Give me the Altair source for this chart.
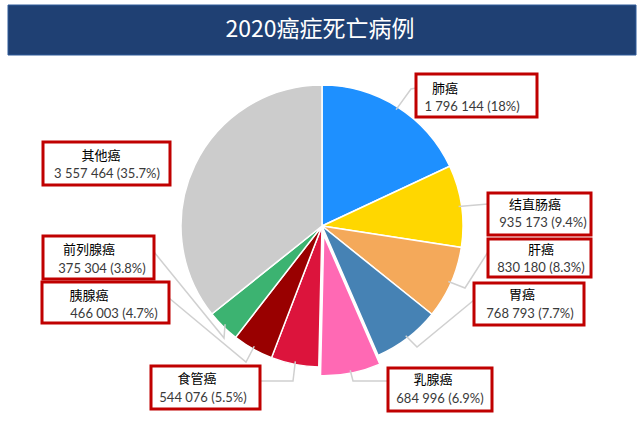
import math
import altair as alt
import pandas as pd

# ---- data ----
names = ["肺癌", "结直肠癌", "肝癌", "胃癌", "乳腺癌", "食管癌", "胰腺癌", "前列腺癌", "其他癌"]
deaths = [1796144, 935173, 830180, 768793, 684996, 544076, 466003, 375304, 3557464]
shares = [18, 9.4, 8.3, 7.7, 6.9, 5.5, 4.7, 3.8, 35.7]
colors = ["#1E90FF", "#FFD700", "#F4A95A", "#4682B4", "#FF69B4", "#DC143C", "#990000", "#3CB371", "#CCCCCC"]
title_text = "2020癌症死亡病例"

# ---- layout (pixels) ----
CX, CY, R = 322, 226, 141
explode = {"乳腺癌": 9}
# box x0, x1, y0, y1, name_x, num_x, name_y, num_y
boxes = {
    "肺癌": (416, 537, 74, 117, 445, 472, 89, 107),
    "结直肠癌": (488, 591, 193, 235, 535, 543, 205, 223),
    "肝癌": (488, 591, 239, 277, 541, 541, 250, 268),
    "胃癌": (474, 584, 283, 325, 522, 530, 295, 314),
    "乳腺癌": (388, 492, 368, 411, 433, 440, 380, 399),
    "食管癌": (151, 260, 366, 409, 197, 203, 379, 398),
    "胰腺癌": (42, 169, 282, 323, 89, 114, 296, 314),
    "前列腺癌": (43, 154, 236, 279, 89, 102, 250, 269),
    "其他癌": (43, 170, 142, 185, 101, 107, 156, 174),
}
leader_pts = {
    "肺癌": [(411, 89), (416, 88)],
    "结直肠癌": [(488, 204)],
    "肝癌": [(465, 288), (488, 252)],
    "胃癌": [(417, 347), (474, 300)],
    "乳腺癌": [(353, 381), (388, 381)],
    "食管癌": [(293, 381), (260, 381)],
    "胰腺癌": [(246, 362), (169, 298)],
    "前列腺癌": [(224, 338), (154, 252)],
}

total = sum(deaths)
rows, lines, texts, rects = [], [], [], []
cum = 0.0
for n, v, s in zip(names, deaths, shares):
    t0 = cum / total * 2 * math.pi
    cum += v
    t1 = cum / total * 2 * math.pi
    tm = (t0 + t1) / 2
    off = explode.get(n, 0)
    cx = CX + off * math.sin(tm)
    cy = CY - off * math.cos(tm)
    rows.append(dict(name=n, t0=t0, t1=t1, cx=cx, cy=cy))
    if n in leader_pts:
        r0 = R - 3
        pts = [(cx + r0 * math.sin(tm), cy - r0 * math.cos(tm))] + leader_pts[n]
        for i, (px, py) in enumerate(pts):
            lines.append(dict(name=n, i=i, x=px, y=py))
    b = boxes[n]
    rects.append(dict(name=n, x0=b[0], x1=b[1], y0=b[2], y1=b[3]))
    num = f"{v:,}".replace(",", " ") + f" ({s:g}%)"
    texts.append(dict(name=n, nx=b[4], mx=b[5], ny=b[6], my=b[7], num=num))

pie_df = pd.DataFrame(rows)
line_df = pd.DataFrame(lines)
rect_df = pd.DataFrame(rects)
text_df = pd.DataFrame(texts)

X = lambda f: alt.X(f, scale=None, axis=None)
Y = lambda f: alt.Y(f, scale=None, axis=None)

title_bg = alt.Chart(pd.DataFrame({"a": [0]})).mark_rect(
    color="#1F4073", stroke="#2E5A9A", strokeWidth=1
).encode(x=alt.value(8), x2=alt.value(636), y=alt.value(5), y2=alt.value(55))
title = alt.Chart(pd.DataFrame({"t": [title_text]})).mark_text(
    font="Noto Sans CJK SC", fontSize=23, color="white", baseline="middle", align="center"
).encode(x=alt.value(320), y=alt.value(30), text="t:N")

pie = alt.Chart(pie_df).mark_arc(radius=R, stroke="white", strokeWidth=1.5).encode(
    theta=alt.Theta("t0:Q", scale=None),
    theta2="t1:Q",
    x=X("cx:Q"),
    y=Y("cy:Q"),
    color=alt.Color("name:N", scale=alt.Scale(domain=names, range=colors), legend=None),
)

leaders = alt.Chart(line_df).mark_line(color="#D0D0D0", strokeWidth=1.5).encode(
    x=X("x:Q"), y=Y("y:Q"), detail="name:N", order="i:Q"
)

box = alt.Chart(rect_df).mark_rect(fill="white", stroke="#C00000", strokeWidth=3).encode(
    x=X("x0:Q"), x2="x1:Q", y=Y("y0:Q"), y2="y1:Q"
)

name_txt = alt.Chart(text_df).mark_text(
    font="Noto Sans CJK SC", fontSize=13, color="black", baseline="middle", align="center"
).encode(x=X("nx:Q"), y=Y("ny:Q"), text="name:N")

num_txt = alt.Chart(text_df).mark_text(
    font="Lato", fontSize=13, color="#3A3A3A", baseline="middle", align="center"
).encode(x=X("mx:Q"), y=Y("my:Q"), text="num:N")

chart = alt.layer(title_bg, title, pie, leaders, box, name_txt, num_txt).properties(
    width=644, height=433, padding=0, autosize=alt.AutoSizeParams(type="none")
).configure_view(stroke=None)

chart.save("out.html", embed_options={"renderer": "svg", "actions": False})
